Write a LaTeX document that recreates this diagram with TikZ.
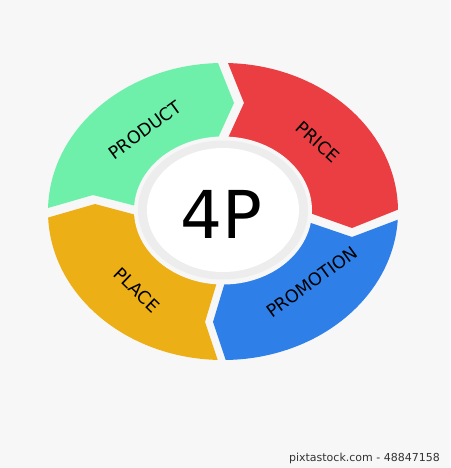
\documentclass[tikz,border=0pt]{standalone}
\usepackage{fontspec}
\setmainfont{DejaVu Sans}
\definecolor{bg}{HTML}{F7F7F7}
\definecolor{cgreen}{HTML}{6FF0AA}
\definecolor{cred}{HTML}{EA3E42}
\definecolor{cblue}{HTML}{2E80E8}
\definecolor{corange}{HTML}{EDAF16}
\definecolor{ring}{HTML}{EDEDED}
\tikzset{
  seglabel/.style={font=\fontsize{17.5}{17.5}\selectfont, text=black, inner sep=0pt},
  outerell/.style={x radius=175pt, y radius=148.5pt},
}
\begin{document}
\begin{tikzpicture}[x=1pt,y=-1pt]
\useasboundingbox (0,0) rectangle (450,468);
\fill[bg] (0,0) rectangle (450,468);
\coordinate (c) at (223,211.5);
% PRODUCT segment
\begin{scope}
\clip (223,211) -- (218,138) -- (234,103) -- (218,63) -- (202,23) -- (-10,-10) -- (-10,225) -- (10,219) -- (48,208) -- (93,195) -- (140,207) -- cycle;
\fill[cgreen] (c) ellipse [outerell];
\end{scope}
% PRICE segment
\begin{scope}
\clip (223,211) -- (228,138) -- (244,103) -- (228,63) -- (212,23) -- (460,-10) -- (460,190) -- (440,193) -- (397,210) -- (352,228) -- (307,212) -- cycle;
\fill[cred] (c) ellipse [outerell];
\end{scope}
% PROMOTION segment
\begin{scope}
\clip (223,211) -- (308,222) -- (352,237) -- (397,220) -- (440,203) -- (460,203) -- (460,480) -- (235,480) -- (235,388) -- (225,358) -- (213,322) -- (225,282) -- cycle;
\fill[cblue] (c) ellipse [outerell];
\end{scope}
% PLACE segment
\begin{scope}
\clip (223,211) -- (140,216) -- (95,204) -- (50,217) -- (10,229) -- (-10,229) -- (-10,480) -- (227,480) -- (227,388) -- (217,358) -- (205,322) -- (217,282) -- cycle;
\fill[corange] (c) ellipse [outerell];
\end{scope}
% centre
\fill[bg] (223,210.5) ellipse [x radius=89pt, y radius=74pt];
\fill[ring] (223,210) ellipse [x radius=85pt, y radius=69.5pt];
\fill[white] (223,210) ellipse [x radius=76pt, y radius=62pt];
\node[inner sep=0pt, font=\fontsize{66}{66}\selectfont] (fourp) at (221,214) {4P};
% labels
\node[seglabel, rotate=36] (product) at (145,130) {PRODUCT};
\node[seglabel, rotate=-42] (price) at (318,142) {PRICE};
\node[seglabel, rotate=36] (promotion) at (312,282) {PROMOTION};
\node[seglabel, rotate=-44] (place) at (137,290) {PLACE};
% footer
\node[anchor=east, inner sep=0pt, text=black!80, font=\fontsize{11}{11}\selectfont] (footer) at (440,458) {pixtastock.com - 48847158};
\end{tikzpicture}
\end{document}
